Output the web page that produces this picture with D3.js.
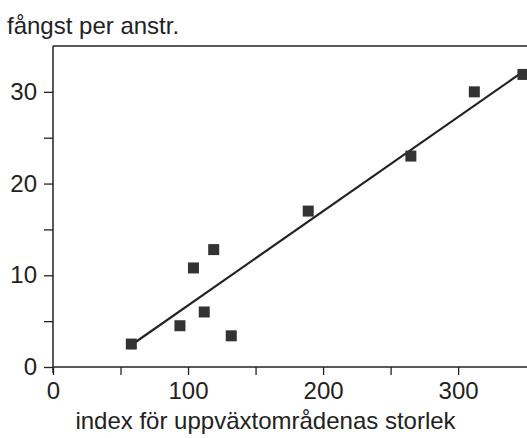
<!DOCTYPE html>
<html>
<head>
<meta charset="utf-8">
<script src="https://cdn.jsdelivr.net/npm/d3@7"></script>
<style>
  body { margin: 0; background: #fff; }
  svg { display: block; font-family: "Liberation Sans", Arial, sans-serif; }
</style>
</head>
<body>
<script>
const width = 527, height = 438;

// data
const sizeIndex = [58, 94, 104, 112, 119, 132, 189, 265, 312, 348];
const catchPerEffort = [2.5, 4.5, 10.8, 6.0, 12.8, 3.4, 17.0, 23.0, 30.0, 31.9];
const fitX = [58, 348];
const fitY = [2.4, 32.2];
const xTicks = [0, 50, 100, 150, 200, 250, 300];
const xLabels = [0, 100, 200, 300];
const yTicks = [0, 5, 10, 15, 20, 25, 30];
const yLabels = [0, 10, 20, 30];

const x = d3.scaleLinear().domain([0, 351]).range([53, 527]);
const y = d3.scaleLinear().domain([0, 35]).range([367, 46]);

const ink = "#222";
const fs = 24;

const svg = d3.select("body").append("svg")
    .attr("width", width)
    .attr("height", height);

// frame: top line, y axis (runs a bit below zero), x axis
svg.append("line")
    .attr("x1", x(0)).attr("x2", width)
    .attr("y1", y(35)).attr("y2", y(35))
    .attr("stroke", ink).attr("stroke-width", 1.5);

const xAxis = svg.append("g")
    .attr("transform", `translate(0,${y(0)})`)
    .call(d3.axisBottom(x)
      .tickValues(xTicks)
      .tickSize(8)
      .tickSizeOuter(0)
      .tickPadding(7)
      .tickFormat(d => xLabels.includes(d) ? d : ""));
xAxis.select(".domain").remove();
xAxis.selectAll(".tick line").attr("stroke", ink).attr("stroke-width", 1.3);
xAxis.selectAll(".tick text")
    .attr("fill", ink)
    .attr("font-size", fs)
    .attr("font-family", "Liberation Sans, Arial, sans-serif");

const yAxis = svg.append("g")
    .attr("transform", `translate(${x(0)},0)`)
    .call(d3.axisLeft(y)
      .tickValues(yTicks)
      .tickSize(9)
      .tickSizeOuter(0)
      .tickPadding(7)
      .tickFormat(d => yLabels.includes(d) ? d : ""));
yAxis.select(".domain").remove();
yAxis.selectAll(".tick line").attr("stroke", ink).attr("stroke-width", 1.3);
yAxis.selectAll(".tick text")
    .attr("fill", ink)
    .attr("font-size", fs)
    .attr("font-family", "Liberation Sans, Arial, sans-serif");

svg.append("line")
    .attr("x1", x(0)).attr("x2", x(0))
    .attr("y1", y(35)).attr("y2", y(0) + 6)
    .attr("stroke", ink).attr("stroke-width", 1.5);

svg.append("line")
    .attr("x1", x(0)).attr("x2", width)
    .attr("y1", y(0)).attr("y2", y(0))
    .attr("stroke", ink).attr("stroke-width", 1.5);

// fitted line
svg.append("path")
    .datum(fitX.map((d, i) => [d, fitY[i]]))
    .attr("fill", "none")
    .attr("stroke", ink)
    .attr("stroke-width", 2.2)
    .attr("d", d3.line().x(d => x(d[0])).y(d => y(d[1])));

// points
const s = 11;
svg.append("g")
    .attr("fill", "#333")
  .selectAll("rect")
  .data(sizeIndex.map((d, i) => ({x: d, y: catchPerEffort[i]})))
  .join("rect")
    .attr("x", d => x(d.x) - s / 2)
    .attr("y", d => y(d.y) - s / 2)
    .attr("width", s)
    .attr("height", s);

// titles
svg.append("text")
    .attr("x", 7).attr("y", 34)
    .attr("fill", ink)
    .attr("font-size", fs)
    .text("fångst per anstr.");

svg.append("text")
    .attr("x", (73 + 458) / 2).attr("y", 429)
    .attr("text-anchor", "middle")
    .attr("fill", ink)
    .attr("font-size", fs)
    .text("index för uppväxtområdenas storlek");
</script>
</body>
</html>
